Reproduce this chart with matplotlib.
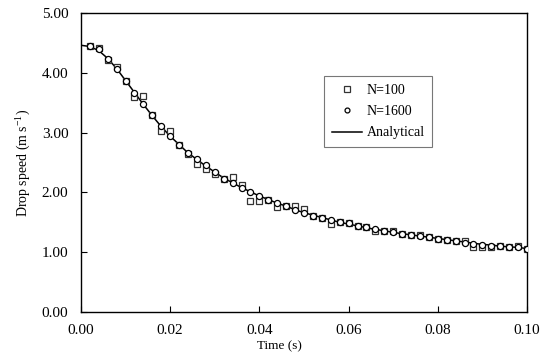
import numpy as np
import matplotlib.pyplot as plt

plt.rcParams['font.family'] = ['Liberation Serif', 'DejaVu Serif']
plt.rcParams['mathtext.fontset'] = 'custom'
plt.rcParams['mathtext.rm'] = 'Liberation Serif'

# time of the simulated points (s)
t_pts = [0.002, 0.004, 0.006, 0.008, 0.010, 0.012, 0.014, 0.016, 0.018, 0.020,
         0.022, 0.024, 0.026, 0.028, 0.030, 0.032, 0.034, 0.036, 0.038, 0.040,
         0.042, 0.044, 0.046, 0.048, 0.050, 0.052, 0.054, 0.056, 0.058, 0.060,
         0.062, 0.064, 0.066, 0.068, 0.070, 0.072, 0.074, 0.076, 0.078, 0.080,
         0.082, 0.084, 0.086, 0.088, 0.090, 0.092, 0.094, 0.096, 0.098, 0.100]

# N=100
v_n100 = [4.45, 4.41, 4.22, 4.10, 3.86, 3.60, 3.61, 3.30, 3.02, 3.03,
          2.80, 2.65, 2.47, 2.39, 2.30, 2.23, 2.25, 2.12, 1.86, 1.86,
          1.87, 1.76, 1.77, 1.78, 1.73, 1.61, 1.58, 1.47, 1.50, 1.48,
          1.44, 1.42, 1.35, 1.36, 1.35, 1.30, 1.29, 1.28, 1.26, 1.22,
          1.20, 1.18, 1.18, 1.09, 1.08, 1.09, 1.11, 1.09, 1.10, 1.06]

# N=1600
v_n1600 = [4.45, 4.39, 4.23, 4.07, 3.86, 3.67, 3.48, 3.29, 3.11, 2.95,
           2.80, 2.66, 2.56, 2.45, 2.34, 2.23, 2.16, 2.07, 2.01, 1.94,
           1.87, 1.82, 1.77, 1.71, 1.66, 1.61, 1.57, 1.54, 1.50, 1.48,
           1.44, 1.42, 1.39, 1.36, 1.33, 1.30, 1.29, 1.27, 1.26, 1.22,
           1.20, 1.18, 1.16, 1.13, 1.12, 1.11, 1.11, 1.09, 1.08, 1.06]

# analytical
t_an = [0.0] + t_pts
v_an = [4.46, 4.44, 4.37, 4.24, 4.07, 3.87, 3.67, 3.47, 3.28, 3.10, 2.94,
        2.80, 2.66, 2.55, 2.44, 2.34, 2.24, 2.16, 2.08, 2.01, 1.94,
        1.88, 1.82, 1.77, 1.71, 1.66, 1.62, 1.58, 1.54, 1.50, 1.47,
        1.44, 1.41, 1.38, 1.36, 1.33, 1.31, 1.29, 1.27, 1.25, 1.23,
        1.21, 1.19, 1.17, 1.15, 1.13, 1.12, 1.10, 1.09, 1.08, 1.06]

fig = plt.figure(figsize=(5.42, 3.58), dpi=100)
ax = fig.add_axes([0.1494, 0.1285, 0.8229, 0.8352])

ax.plot(t_pts, v_n100, 's', ms=4.6, mfc='white', mec='#333333', mew=0.9,
        label='N=100', zorder=3)
ax.plot(t_pts, v_n1600, 'o', ms=4.4, mfc='white', mec='black', mew=0.9,
        label='N=1600', zorder=4)
ax.plot(t_an, v_an, '-', color='black', lw=1.1, label='Analytical', zorder=2)

ax.set_xlim(0, 0.1)
ax.set_ylim(0, 5)
ax.set_xticks(np.arange(0, 0.101, 0.02))
ax.set_yticks(np.arange(0, 5.01, 1))
ax.set_xticklabels(['%.2f' % v for v in np.arange(0, 0.101, 0.02)])
ax.set_yticklabels(['%.2f' % v for v in np.arange(0, 5.01, 1)])
ax.tick_params(direction='in', length=4, width=0.8, labelsize=11,
               top=False, right=False, pad=9)
ax.tick_params(axis='y', pad=9)
for s in ax.spines.values():
    s.set_linewidth(1.0)

ax.set_xlabel('Time (s)', fontsize=9.5)
ax.xaxis.set_label_coords(0.444, -0.095)
ax.set_ylabel('Drop speed (m s$^{-1}$)', fontsize=10, labelpad=7)

leg = ax.legend(loc='upper left', bbox_to_anchor=(0.545, 0.789), fontsize=10,
                frameon=True, fancybox=False, edgecolor='#555555',
                handlelength=2.2, borderpad=0.55, labelspacing=0.6,
                handletextpad=0.3, borderaxespad=0, markerscale=0.8)
leg.get_frame().set_linewidth(0.8)

fig.savefig('out.png', dpi=100)
